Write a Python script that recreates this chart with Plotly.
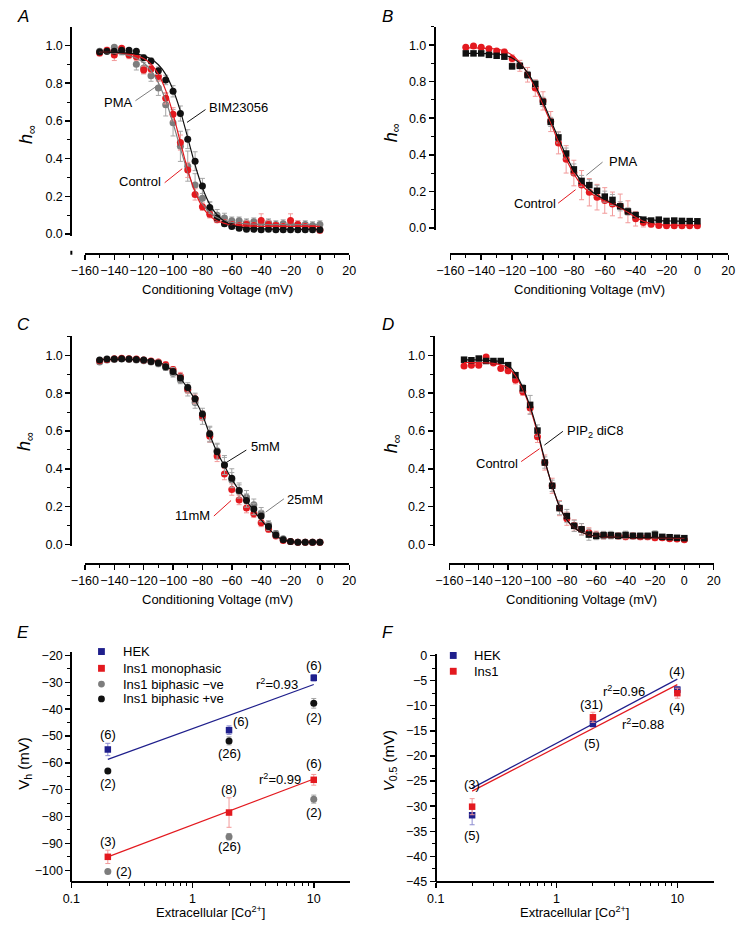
import math
import plotly.graph_objects as go

# ---------------- data ----------------
V = [-150, -145, -140, -135, -130, -125, -120, -115, -110, -105, -100, -95, -90, -85, -80,
     -75, -70, -65, -60, -55, -50, -45, -40, -35, -30, -25, -20, -15, -10, -5, 0]

# Panel A
A_ctrl = [0.96, 0.975, 0.95, 0.985, 0.95, 0.94, 0.87, 0.875, 0.835, 0.72, 0.635, 0.485, 0.34, 0.21, 0.145,
          0.105, 0.075, 0.06, 0.05, 0.045, 0.05, 0.045, 0.072, 0.05, 0.045, 0.04, 0.072, 0.05, 0.04, 0.035, 0.02]
A_ctrl_err = [0.015, 0.015, 0.03, 0.01, 0.02, 0.02, 0.02, 0.02, 0.025, 0.03, 0.035, 0.04, 0.04, 0.03, 0.02,
              0.02, 0.015, 0.015, 0.015, 0.015, 0.02, 0.015, 0.035, 0.02, 0.015, 0.015, 0.035, 0.02, 0.015, 0.015, 0.015]
A_pma = [0.97, 0.97, 0.99, 0.97, 0.96, 0.90, 0.88, 0.84, 0.775, 0.686, 0.59, 0.465, 0.36, 0.26, 0.19,
         0.13, 0.10, 0.085, 0.07, 0.07, 0.06, 0.065, 0.055, 0.06, 0.05, 0.055, 0.05, 0.05, 0.05, 0.045, 0.05]
A_pma_err = [0.01, 0.01, 0.01, 0.02, 0.02, 0.03, 0.03, 0.03, 0.04, 0.06, 0.07, 0.08, 0.08, 0.06, 0.05,
             0.04, 0.03, 0.025, 0.02, 0.02, 0.02, 0.02, 0.02, 0.02, 0.02, 0.02, 0.02, 0.02, 0.02, 0.02, 0.02]
A_bim = [0.965, 0.97, 0.97, 0.975, 0.975, 0.97, 0.935, 0.918, 0.866, 0.817, 0.757, 0.639, 0.503, 0.386, 0.255,
         0.14, 0.085, 0.055, 0.04, 0.03, 0.025, 0.025, 0.022, 0.025, 0.022, 0.022, 0.022, 0.022, 0.022, 0.022, 0.022]
A_bim_err = [0.01, 0.01, 0.01, 0.01, 0.01, 0.01, 0.015, 0.015, 0.02, 0.025, 0.03, 0.04, 0.05, 0.05, 0.04,
             0.03, 0.02, 0.015, 0.01, 0.01, 0.01, 0.01, 0.01, 0.01, 0.01, 0.01, 0.01, 0.01, 0.01, 0.01, 0.01]
A_ctrl_fit = [0.964, 0.963, 0.9625, 0.960, 0.956, 0.947, 0.931, 0.901, 0.848, 0.762, 0.637, 0.487, 0.340, 0.223, 0.144,
              0.096, 0.070, 0.056, 0.048, 0.044, 0.042, 0.041, 0.040, 0.040, 0.040, 0.040, 0.040, 0.040, 0.040, 0.040, 0.040]
A_bim_fit = [0.9645, 0.964, 0.963, 0.962, 0.959, 0.954, 0.945, 0.928, 0.898, 0.847, 0.765, 0.652, 0.510, 0.366, 0.245,
             0.157, 0.101, 0.067, 0.048, 0.037, 0.032, 0.028, 0.027, 0.026, 0.025, 0.025, 0.025, 0.025, 0.025, 0.025, 0.025]
A_pma_fit = [0.963, 0.962, 0.959, 0.955, 0.947, 0.932, 0.908, 0.867, 0.802, 0.708, 0.588, 0.454, 0.329, 0.229, 0.159,
             0.114, 0.087, 0.071, 0.062, 0.057, 0.054, 0.052, 0.051, 0.050, 0.050, 0.050, 0.050, 0.050, 0.050, 0.050, 0.050]

# Panel B
B_ctrl = [0.988, 0.996, 0.988, 0.98, 0.968, 0.963, 0.927, 0.887, 0.838, 0.765, 0.695, 0.582, 0.465, 0.375, 0.30,
          0.234, 0.195, 0.168, 0.15, 0.131, 0.12, 0.088, 0.05, 0.03, 0.02, 0.013, 0.012, 0.012, 0.012, 0.012, 0.012]
B_ctrl_err = [0.01, 0.01, 0.01, 0.01, 0.01, 0.015, 0.02, 0.03, 0.04, 0.045, 0.05, 0.055, 0.06, 0.075, 0.07,
              0.08, 0.075, 0.07, 0.07, 0.065, 0.065, 0.06, 0.04, 0.025, 0.015, 0.01, 0.01, 0.01, 0.01, 0.01, 0.01]
B_pma = [0.955, 0.955, 0.955, 0.947, 0.942, 0.937, 0.884, 0.887, 0.837, 0.788, 0.69, 0.58, 0.495, 0.407, 0.32,
         0.257, 0.234, 0.203, 0.171, 0.153, 0.118, 0.09, 0.07, 0.045, 0.04, 0.045, 0.038, 0.04, 0.038, 0.037, 0.036]
B_pma_err = [0.01, 0.01, 0.01, 0.01, 0.01, 0.01, 0.015, 0.015, 0.02, 0.02, 0.025, 0.025, 0.03, 0.03, 0.03,
             0.03, 0.03, 0.03, 0.03, 0.03, 0.025, 0.02, 0.015, 0.01, 0.01, 0.01, 0.01, 0.01, 0.01, 0.01, 0.01]
B_ctrl_fit = [0.985, 0.985, 0.984, 0.982, 0.978, 0.968, 0.945, 0.905, 0.845, 0.765, 0.675, 0.575, 0.47, 0.375, 0.295,
              0.235, 0.195, 0.168, 0.148, 0.13, 0.11, 0.085, 0.058, 0.036, 0.024, 0.018, 0.015, 0.014, 0.014, 0.014, 0.014]
B_pma_fit = [0.955, 0.955, 0.954, 0.953, 0.951, 0.945, 0.93, 0.9, 0.85, 0.78, 0.69, 0.59, 0.49, 0.395, 0.315,
             0.255, 0.21, 0.178, 0.155, 0.135, 0.115, 0.092, 0.07, 0.055, 0.045, 0.04, 0.038, 0.037, 0.036, 0.035, 0.035]

# Panel C
C_5 = [0.975, 0.98, 0.98, 0.982, 0.98, 0.978, 0.975, 0.968, 0.96, 0.94, 0.915, 0.88, 0.83, 0.77, 0.69,
       0.585, 0.49, 0.42, 0.35, 0.285, 0.232, 0.187, 0.15, 0.095, 0.05, 0.025, 0.015, 0.012, 0.012, 0.012, 0.012]
C_5_err = [0.01, 0.01, 0.01, 0.01, 0.01, 0.01, 0.01, 0.01, 0.015, 0.015, 0.02, 0.02, 0.025, 0.03, 0.03,
           0.04, 0.04, 0.05, 0.05, 0.04, 0.035, 0.03, 0.03, 0.02, 0.015, 0.01, 0.01, 0.01, 0.01, 0.01, 0.01]
C_11 = [0.972, 0.978, 0.982, 0.984, 0.982, 0.98, 0.975, 0.97, 0.965, 0.95, 0.925, 0.89, 0.82, 0.77, 0.68,
        0.572, 0.468, 0.372, 0.29, 0.235, 0.192, 0.162, 0.114, 0.08, 0.045, 0.02, 0.015, 0.012, 0.012, 0.012, 0.012]
C_11_err = [0.01, 0.01, 0.01, 0.01, 0.01, 0.01, 0.01, 0.01, 0.01, 0.015, 0.015, 0.02, 0.02, 0.025, 0.025,
            0.03, 0.03, 0.03, 0.03, 0.025, 0.025, 0.02, 0.02, 0.015, 0.01, 0.01, 0.01, 0.01, 0.01, 0.01, 0.01]
C_25 = [0.965, 0.975, 0.978, 0.98, 0.978, 0.975, 0.972, 0.965, 0.955, 0.935, 0.905, 0.87, 0.815, 0.75, 0.67,
        0.58, 0.495, 0.42, 0.34, 0.28, 0.25, 0.21, 0.165, 0.105, 0.058, 0.03, 0.016, 0.012, 0.012, 0.012, 0.012]
C_25_err = [0.01, 0.01, 0.01, 0.01, 0.01, 0.01, 0.01, 0.01, 0.015, 0.015, 0.02, 0.02, 0.03, 0.03, 0.035,
            0.04, 0.04, 0.04, 0.04, 0.035, 0.035, 0.03, 0.03, 0.02, 0.015, 0.01, 0.01, 0.01, 0.01, 0.01, 0.01]
C_fit = [0.978, 0.978, 0.978, 0.978, 0.977, 0.977, 0.976, 0.974, 0.965, 0.945, 0.916, 0.878, 0.825, 0.764, 0.686,
         0.58, 0.487, 0.415, 0.345, 0.285, 0.23, 0.178, 0.13, 0.085, 0.047, 0.024, 0.015, 0.012, 0.012, 0.012, 0.012]

# Panel D
D_pip = [0.977, 0.974, 0.983, 0.97, 0.97, 0.97, 0.948, 0.895, 0.826, 0.738, 0.602, 0.433, 0.31, 0.192, 0.15,
         0.098, 0.08, 0.052, 0.045, 0.049, 0.049, 0.045, 0.05, 0.045, 0.045, 0.045, 0.052, 0.04, 0.038, 0.035, 0.033]
D_pip_err = [0.01, 0.01, 0.01, 0.01, 0.01, 0.01, 0.01, 0.015, 0.02, 0.05, 0.03, 0.03, 0.03, 0.035, 0.035,
             0.03, 0.03, 0.03, 0.02, 0.02, 0.02, 0.015, 0.02, 0.015, 0.015, 0.015, 0.02, 0.01, 0.01, 0.01, 0.01]
D_ctrl = [0.944, 0.948, 0.948, 0.991, 0.96, 0.93, 0.918, 0.869, 0.808, 0.721, 0.569, 0.433, 0.31, 0.192, 0.136,
          0.1, 0.08, 0.063, 0.05, 0.048, 0.048, 0.045, 0.04, 0.045, 0.04, 0.04, 0.035, 0.035, 0.03, 0.028, 0.025]
D_ctrl_err = [0.01, 0.01, 0.01, 0.01, 0.01, 0.01, 0.015, 0.02, 0.02, 0.03, 0.03, 0.04, 0.04, 0.04, 0.035,
              0.03, 0.03, 0.025, 0.02, 0.02, 0.015, 0.015, 0.015, 0.015, 0.015, 0.015, 0.015, 0.01, 0.01, 0.01, 0.01]
D_pip_fit = [0.976, 0.976, 0.975, 0.974, 0.972, 0.965, 0.948, 0.905, 0.83, 0.73, 0.6, 0.445, 0.31, 0.2, 0.13,
             0.088, 0.064, 0.051, 0.044, 0.041, 0.039, 0.038, 0.037, 0.036, 0.036, 0.036, 0.035, 0.035, 0.035, 0.035, 0.035]
D_ctrl_fit = [0.962, 0.962, 0.961, 0.96, 0.957, 0.95, 0.933, 0.893, 0.82, 0.72, 0.59, 0.44, 0.31, 0.2, 0.13,
              0.088, 0.064, 0.05, 0.043, 0.04, 0.038, 0.037, 0.036, 0.035, 0.035, 0.034, 0.034, 0.033, 0.033, 0.032, 0.032]

# Panel E  (Vh vs [Co2+])
CO = [0.2, 2, 10]
E_hek = [-55.0, -47.8, -28.3]
E_hek_err = [2.3, 1.6, 1.2]
E_mono = [-95.0, -78.5, -66.3]
E_mono_err = [2.5, 5.5, 2.0]
E_bineg = [-100.5, -87.5, -73.5]
E_bineg_err = [0.5, 1.2, 1.5]
E_bipos = [-63.0, -51.8, -37.8]
E_bipos_err = [0.4, 1.5, 1.8]
E_fit_x = [0.2, 10]
E_hek_fit = [-58.7, -30.8]
E_mono_fit = [-95.0, -66.0]

# Panel F  (V0.5 vs [Co2+])
F_hek = [-31.8, -13.6, -6.8]
F_hek_err = [1.9, 0.6, 0.6]
F_ins = [-30.1, -12.3, -7.5]
F_ins_err = [1.6, 1.0, 1.0]
F_fit_x = [0.2, 10]
F_hek_fit = [-26.4, -4.7]
F_ins_fit = [-27.0, -5.8]

# ---------------- styling / layout ----------------
W, H = 745, 928
FONT = "Liberation Sans, Arial, Helvetica, sans-serif"
RED = "#e3191f"
GREY = "#7d7d7d"
BLACK = "#111111"
BLUE = "#1f1f8c"
RED_ERR = "#f29a9a"
GREY_ERR = "#a6a6a6"
BLUE_ERR = "#8c8cd0"


def px(x):
    return x / W


def py(y):
    return 1 - y / H


fig = go.Figure()


def points(x, y, err, color, errcolor, symbol, k, size=7):
    fig.add_trace(go.Scatter(
        x=x, y=y, mode="markers",
        marker=dict(color=color, size=size, symbol=symbol, line=dict(width=0)),
        error_y=dict(type="data", array=err, visible=True, color=errcolor, thickness=1, width=2.5),
        xaxis="x" + k, yaxis="y" + k, showlegend=False, cliponaxis=False))


def fitline(x, y, color, k, spline=True):
    fig.add_trace(go.Scatter(
        x=x, y=y, mode="lines",
        line=dict(color=color, width=1.2, shape="spline" if spline else "linear", smoothing=0.8),
        xaxis="x" + k, yaxis="y" + k, showlegend=False, hoverinfo="skip"))


# A
points(V, A_pma, A_pma_err, GREY, GREY_ERR, "circle", "")
points(V, A_ctrl, A_ctrl_err, RED, RED_ERR, "circle", "")
points(V, A_bim, A_bim_err, BLACK, GREY_ERR, "circle", "")
fitline(V, A_pma_fit, GREY, "")
fitline(V, A_ctrl_fit, RED, "")
fitline(V, A_bim_fit, BLACK, "")
# B
points(V, B_ctrl, B_ctrl_err, RED, RED_ERR, "circle", "2")
points(V, B_pma, B_pma_err, BLACK, GREY_ERR, "square", "2", size=6.5)
fitline(V, B_ctrl_fit, RED, "2")
fitline(V, B_pma_fit, BLACK, "2")
# C
points(V, C_25, C_25_err, GREY, GREY_ERR, "circle", "3")
points(V, C_11, C_11_err, RED, RED_ERR, "circle", "3")
points(V, C_5, C_5_err, BLACK, GREY_ERR, "circle", "3")
fitline(V, C_fit, BLACK, "3")
# D
points(V, D_ctrl, D_ctrl_err, RED, RED_ERR, "circle", "4")
points(V, D_pip, D_pip_err, BLACK, GREY_ERR, "square", "4", size=6.5)
fitline(V, D_ctrl_fit, RED, "4")
fitline(V, D_pip_fit, BLACK, "4")
# E
fitline(E_fit_x, E_hek_fit, BLUE, "5", spline=False)
fitline(E_fit_x, E_mono_fit, RED, "5", spline=False)
points(CO, E_hek, E_hek_err, BLUE, BLUE_ERR, "square", "5", size=6.5)
points(CO, E_mono, E_mono_err, RED, RED_ERR, "square", "5", size=6.5)
points(CO, E_bineg, E_bineg_err, GREY, GREY_ERR, "circle", "5", size=7)
points(CO, E_bipos, E_bipos_err, BLACK, GREY_ERR, "circle", "5", size=7)
# F
fitline(F_fit_x, F_hek_fit, BLUE, "6", spline=False)
fitline(F_fit_x, F_ins_fit, RED, "6", spline=False)
points(CO, F_hek, F_hek_err, BLUE, BLUE_ERR, "square", "6", size=6.5)
points(CO, F_ins, F_ins_err, RED, RED_ERR, "square", "6", size=6.5)

TICKFONT = dict(family=FONT, size=12.5, color="black")


def xax(x0, x1, yline, rng, log=False):
    d = dict(domain=[px(x0), px(x1)], anchor="free", position=py(yline), range=rng,
             showline=True, linewidth=2, linecolor="black", mirror=False,
             ticks="outside", ticklen=5, tickwidth=1.5, tickcolor="black", tickangle=0,
             ticklabeloverflow="allow",
             showgrid=False, zeroline=False, tickfont=TICKFONT, fixedrange=True)
    if log:
        d.update(type="log", tickmode="array", tickvals=[0.1, 1, 10], ticktext=["0.1", "1", "10"],
                 minor=dict(tickmode="array",
                            tickvals=[0.2, 0.3, 0.4, 0.5, 0.6, 0.7, 0.8, 0.9, 2, 3, 4, 5, 6, 7, 8, 9],
                            ticks="outside", ticklen=3, tickwidth=1, tickcolor="black", showgrid=False))
    else:
        d.update(tick0=0, dtick=20,
                 minor=dict(dtick=10, ticks="outside", ticklen=3, tickwidth=1, tickcolor="black", showgrid=False))
    return d


def yax(y0, y1, xline, rng, dtick, mdtick, fmt=None):
    d = dict(domain=[py(y1), py(y0)], anchor="free", position=px(xline), range=rng,
             showline=True, linewidth=2, linecolor="black",
             ticks="outside", ticklen=5, tickwidth=1.5, tickcolor="black",
             ticklabeloverflow="allow",
             showgrid=False, zeroline=False, tickfont=TICKFONT, tick0=0, dtick=dtick, fixedrange=True,
             minor=dict(dtick=mdtick, ticks="outside", ticklen=3, tickwidth=1, tickcolor="black", showgrid=False))
    if fmt:
        d["tickformat"] = fmt
    return d


LOG20 = math.log10(20)
fig.update_layout(
    width=W, height=H, margin=dict(l=0, r=0, t=0, b=0),
    paper_bgcolor="white", plot_bgcolor="rgba(0,0,0,0)",
    font=dict(family=FONT, size=13, color="black"),
    showlegend=False, hovermode=False,
    xaxis=xax(73, 345, 252, [-160, 20]),
    yaxis=yax(22, 234, 59, [-0.0105, 1.0995], 0.2, 0.1, ".1f"),
    xaxis2=xax(449, 735, 252, [-160, 20]),
    yaxis2=yax(22, 228, 433, [-0.012, 1.101], 0.2, 0.1, ".1f"),
    xaxis3=xax(73, 345, 566, [-160, 20]),
    yaxis3=yax(335, 548, 59, [-0.008, 1.104], 0.2, 0.1, ".1f"),
    xaxis4=xax(448, 720, 566, [-160, 20]),
    yaxis4=yax(335, 548, 432, [-0.008, 1.104], 0.2, 0.1, ".1f"),
    xaxis5=xax(59, 346, 888, [-1, LOG20], log=True),
    yaxis5=yax(655, 888, 59, [-104.2, -18.5], 10, 5),
    xaxis6=xax(434, 720, 888, [-1, LOG20], log=True),
    yaxis6=yax(657, 888, 434, [-45, 0.4], 5, 2.5),
)

ann = []
shapes = []


def text(x, y, s, size=13, xanchor="center", yanchor="middle", xref="paper", yref="paper",
         angle=0, color="black", italic=False):
    ann.append(dict(x=x, y=y, text=s, showarrow=False, xref=xref, yref=yref, xanchor=xanchor,
                    yanchor=yanchor, textangle=angle,
                    font=dict(family=FONT, size=size, color=color, style="italic" if italic else "normal")))


# panel letters
for letter, lx, ly in [("A", 1, 12), ("B", 377, 12), ("C", 1, 324), ("D", 377, 324), ("E", 1, 636), ("F", 377, 636)]:
    text(px(lx), py(ly), letter, size=17, xanchor="left", italic=True)

# axis titles
for cx, cy in [(209, 288), (592, 288), (209, 602), (584, 602)]:
    text(px(cx), py(cy), "Conditioning Voltage (mV)", size=13)
for cx, cy in [(202, 919), (577, 919)]:
    text(px(cx), py(cy), "Extracellular [Co<sup>2+</sup>]", size=13)
for cx, cy in [(14, 131), (389, 130), (12, 442), (389, 445)]:
    text(px(cx), py(cy), "<i>h</i><sub>∞</sub>", size=18, angle=-90)
text(px(10), py(768), "V<sub>h</sub> (mV)", size=15, angle=-90)
text(px(386), py(766), "<i>V</i><sub>0.5</sub> (mV)", size=15, angle=-90)


# curve labels with leader lines (data coordinates of each panel)
def leader(k, x0, y0, x1, y1, color):
    shapes.append(dict(type="line", xref="x" + k, yref="y" + k, x0=x0, y0=y0, x1=x1, y1=y1,
                       line=dict(color=color, width=1)))


text(-126.2, 0.696, "PMA", xanchor="right", xref="x", yref="y")
leader("", -125.6, 0.707, -111.0, 0.785, GREY)
text(-76.6, 0.67, "BIM23056", xanchor="left", xref="x", yref="y")
leader("", -90.5, 0.592, -77.9, 0.66, BLACK)
text(-107.1, 0.277, "Control", xanchor="right", xref="x", yref="y")
leader("", -105.7, 0.272, -93.8, 0.346, RED)

text(-58.5, 0.362, "PMA", xanchor="left", xref="x2", yref="y2")
leader("2", -71.9, 0.288, -61.4, 0.36, GREY)
text(-90.6, 0.135, "Control", xanchor="right", xref="x2", yref="y2")
leader("2", -90.2, 0.135, -78.9, 0.209, RED)

text(-48.2, 0.518, "5mM", xanchor="left", xref="x3", yref="y3")
leader("3", -63.8, 0.433, -50.1, 0.499, BLACK)
text(-23.7, 0.236, "25mM", xanchor="left", xref="x3", yref="y3")
leader("3", -36.9, 0.171, -24.5, 0.241, GREY)
text(-73.3, 0.152, "11mM", xanchor="right", xref="x3", yref="y3")
leader("3", -72.2, 0.15, -60.5, 0.232, RED)

text(-81.4, 0.597, "PIP<sub>2</sub> diC8", xanchor="left", xref="x4", yref="y4")
leader("4", -95.3, 0.525, -82.7, 0.598, BLACK)
text(-111.8, 0.429, "Control", xanchor="right", xref="x4", yref="y4")
leader("4", -111.1, 0.438, -98.6, 0.506, RED)

# n labels in E and F (log axes take log10 positions)
L = math.log10
for s, x, y in [("(6)", 0.2, -49.3), ("(2)", 0.2, -67.6), ("(6)", 2.5, -44.5), ("(26)", 2, -56.6),
                ("(6)", 10, -23.8), ("(2)", 10, -43.2), ("(6)", 10, -60.4), ("(2)", 10, -78.4),
                ("(8)", 2, -69.8), ("(26)", 2, -91.2), ("(3)", 0.2, -89.4), ("(2)", 0.27, -100.6)]:
    text(L(x), y, s, xref="x5", yref="y5")
text(L(5.0), -30.7, "r<sup>2</sup>=0.93", xref="x5", yref="y5")
text(L(5.26), -65.9, "r<sup>2</sup>=0.99", xref="x5", yref="y5")

for s, x, y in [("(4)", 10, -3.1), ("(4)", 10, -10.4), ("(31)", 1.93, -9.7), ("(5)", 1.95, -17.5),
                ("(3)", 0.2, -25.7), ("(5)", 0.2, -35.9)]:
    text(L(x), y, s, xref="x6", yref="y6")
text(L(3.61), -7.1, "r<sup>2</sup>=0.96", xref="x6", yref="y6")
text(L(5.22), -13.6, "r<sup>2</sup>=0.88", xref="x6", yref="y6")


# hand-drawn legends for E and F
def legend_item(mx, my, color, kind, label, tx):
    r = 3.5
    shapes.append(dict(type="rect" if kind == "square" else "circle", xref="paper", yref="paper",
                       x0=px(mx - r), x1=px(mx + r), y0=py(my + r), y1=py(my - r),
                       fillcolor=color, line=dict(width=0)))
    text(px(tx), py(my), label, xanchor="left", size=13)


legend_item(90, 655, BLUE, "square", "HEK", 110)
legend_item(90, 672, RED, "square", "Ins1 monophasic", 110)
legend_item(90, 688, GREY, "circle", "Ins1 biphasic −ve", 110)
legend_item(90, 703, BLACK, "circle", "Ins1 biphasic +ve", 110)
legend_item(452, 659, BLUE, "square", "HEK", 471)
legend_item(452, 675, RED, "square", "Ins1", 471)

# small detached stub below the y axis of panel A
shapes.append(dict(type="line", xref="paper", yref="paper", x0=px(59), x1=px(59), y0=py(249), y1=py(253),
                   line=dict(color="black", width=2)))

fig.update_layout(annotations=ann, shapes=shapes)
fig.write_html("out.html", config={"displayModeBar": False, "staticPlot": True},
               post_script="document.body.style.margin='0px';document.body.style.overflow='hidden';")
